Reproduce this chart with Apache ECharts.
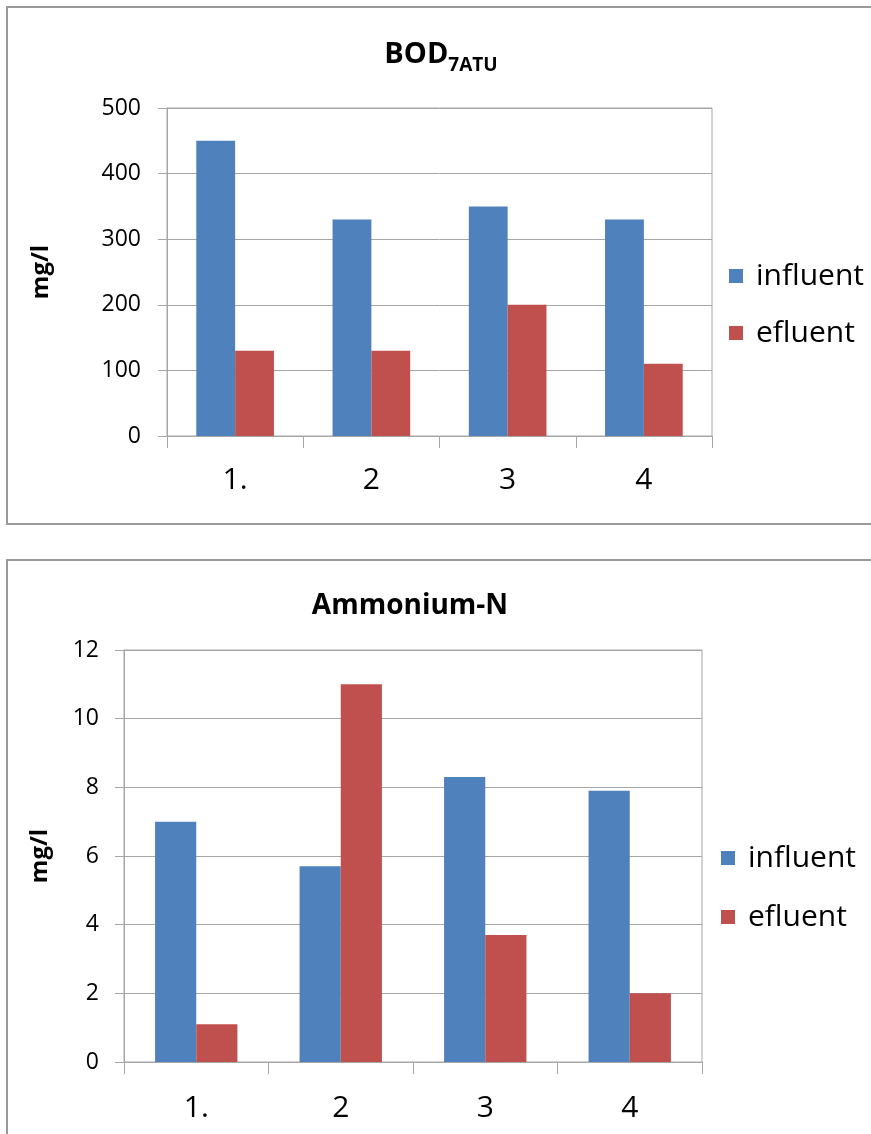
<!DOCTYPE html>
<html>
<head>
<meta charset="utf-8">
<script src="https://cdn.jsdelivr.net/npm/echarts@6/dist/echarts.min.js"></script>
<style>
html,body{margin:0;padding:0;background:#fff;}
#main{width:871px;height:1134px;}
</style>
</head>
<body>
<div id="main"></div>
<script>
const categories = ['1.', '2', '3', '4'];
const seriesNames = ['influent', 'efluent'];
const bodInfluent = [450, 330, 350, 330];
const bodEfluent = [130, 130, 200, 110];
const nh4Influent = [7.0, 5.7, 8.3, 7.9];
const nh4Efluent = [1.1, 11.0, 3.7, 2.0];
const bodTicks = {min: 0, max: 500, interval: 100};
const nh4Ticks = {min: 0, max: 12, interval: 2};

const FONT = 'Open Sans';
const GRIDC = '#a6a6a6';
const BLUE = '#4f81bd';
const RED = '#c0504d';

const chart = echarts.init(document.getElementById('main'), null, {renderer: 'canvas'});

function yAxis(gi, t, margin, nameGap) {
  return {
    type: 'value', gridIndex: gi, min: t.min, max: t.max, interval: t.interval,
    name: 'mg/l', nameLocation: 'middle', nameRotate: 90, nameGap: nameGap,
    nameTextStyle: {fontFamily: FONT, fontWeight: 'bold', fontSize: 24, color: '#000'},
    axisLine: {show: true, lineStyle: {color: GRIDC, width: 1}},
    axisTick: {show: true, length: 9, lineStyle: {color: GRIDC}},
    splitLine: {show: true, lineStyle: {color: GRIDC, width: 1}},
    axisLabel: {fontFamily: FONT, fontSize: 23, color: '#000', margin: margin}
  };
}
function xAxis(gi, margin) {
  return {
    type: 'category', gridIndex: gi, data: categories,
    axisLine: {show: true, lineStyle: {color: GRIDC, width: 1}},
    axisTick: {show: true, length: 12, alignWithLabel: false, lineStyle: {color: GRIDC}},
    axisLabel: {fontFamily: FONT, fontSize: 30, color: '#000', margin: margin},
    splitLine: {show: false}
  };
}
function legend(left, top, gap) {
  return {
    orient: 'vertical', left: left, top: top, itemWidth: 14, itemHeight: 14, itemGap: gap,
    icon: 'rect', data: seriesNames, selectedMode: false,
    textStyle: {fontFamily: FONT, fontSize: 30, color: '#000', lineHeight: 30, padding: [0,0,0,8]}
  };
}
function bar(name, data, gi, color) {
  return {
    name: name, type: 'bar', data: data, xAxisIndex: gi, yAxisIndex: gi,
    barGap: '0%', barCategoryGap: '43%', itemStyle: {color: color}, animation: false
  };
}

chart.setOption({
  animation: false,
  backgroundColor: '#fff',
  title: [
    {
      text: 'BOD{sub|7ATU}', left: 436, top: 29, textAlign: 'center',
      textStyle: {
        fontFamily: FONT, fontWeight: 'bold', fontSize: 29, color: '#000',
        rich: {sub: {fontFamily: FONT, fontWeight: 'bold', fontSize: 19, color: '#000', padding: [22, 0, 0, 0]}}
      }
    },
    {
      text: 'Ammonium-N', left: 405, top: 587, textAlign: 'center',
      textStyle: {fontFamily: FONT, fontWeight: 'bold', fontSize: 28, color: '#000'}
    }
  ],
  legend: [legend(724, 256, 27), legend(716, 838, 29)],
  grid: [
    {left: 167, top: 108, width: 545, height: 328, show: true, borderColor: GRIDC, borderWidth: 1, backgroundColor: 'transparent'},
    {left: 124, top: 650, width: 578, height: 412, show: true, borderColor: GRIDC, borderWidth: 1, backgroundColor: 'transparent'}
  ],
  xAxis: [xAxis(0, 29), xAxis(1, 31)],
  yAxis: [yAxis(0, bodTicks, 26, 114), yAxis(1, nh4Ticks, 25, 72)],
  series: [
    bar(seriesNames[0], bodInfluent, 0, BLUE),
    bar(seriesNames[1], bodEfluent, 0, RED),
    bar(seriesNames[0], nh4Influent, 1, BLUE),
    bar(seriesNames[1], nh4Efluent, 1, RED)
  ],
  graphic: [
    {type: 'rect', shape: {x: 7, y: 7, width: 900, height: 517}, style: {fill: 'none', stroke: '#9a9a9a', lineWidth: 2}, z: 100},
    {type: 'rect', shape: {x: 7, y: 560, width: 900, height: 700}, style: {fill: 'none', stroke: '#9a9a9a', lineWidth: 2}, z: 100}
  ]
});
</script>
</body>
</html>
